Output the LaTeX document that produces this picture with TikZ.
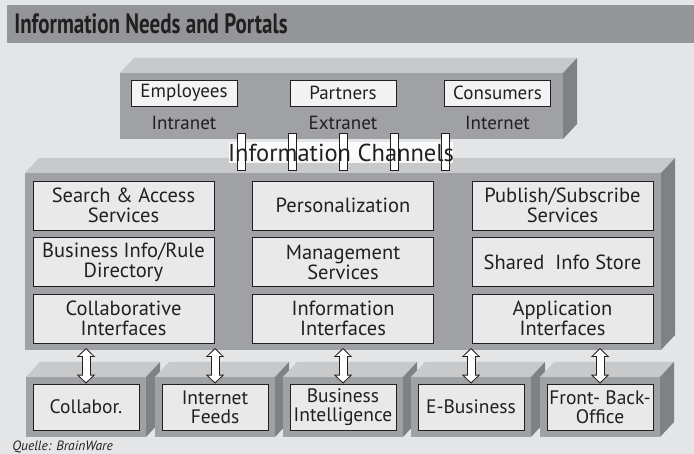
\documentclass[tikz,border=0pt]{standalone}
\usepackage{fontspec}
\setmainfont{PT Sans}
\usetikzlibrary{arrows.meta}

\definecolor{paper}{HTML}{E4E5E6}
\definecolor{titlegray}{HTML}{939598}
\definecolor{frontgray}{HTML}{A0A1A4}
\definecolor{topgray}{HTML}{C8C9CB}
\definecolor{sidegray}{HTML}{808184}
\definecolor{innerfill}{HTML}{E9E9EA}
\definecolor{whitebox}{HTML}{F3F3F3}
\definecolor{ink}{HTML}{231F20}

\begin{document}
\begin{tikzpicture}[x=1pt,y=-1pt,line width=0.8pt,
    inbox/.style={draw=ink,fill=innerfill,minimum width=181pt,minimum height=49pt,inner sep=0pt,align=center,text=ink,font=\fontsize{20.5}{20}\selectfont},
    basebox/.style={draw=ink,fill=innerfill,minimum width=106pt,minimum height=46pt,inner sep=0pt,align=center,text=ink,font=\fontsize{19.5}{19}\selectfont},
    userbox/.style={draw=ink,fill=whitebox,minimum width=106pt,minimum height=26pt,inner sep=0pt,text=ink,font=\fontsize{19}{19}\selectfont},
    netlabel/.style={text=ink,font=\fontsize{19}{19}\selectfont},
    flowout/.style={line width=9pt,ink,{Triangle[length=9pt,width=18pt]}-{Triangle[length=9pt,width=18pt]}},
    flowin/.style={line width=7pt,white,shorten <=1.4pt,shorten >=1.4pt,{Triangle[length=6.6pt,width=13.2pt]}-{Triangle[length=6.6pt,width=13.2pt]}}]
    \useasboundingbox (0,0) rectangle (694,454);
    \fill[paper] (0,0) rectangle (694,454);
    % title bar
    \fill[titlegray] (7,5) rectangle (694,43);
    \node (title) at (14,34) [anchor=base west,inner sep=0pt,xscale=0.75,text=ink,font=\bfseries\fontsize{28}{28}\selectfont] {Information Needs and Portals};

    % top block: users
    \fill[frontgray] (120,73) rectangle (563,139);
    \fill[topgray] (120,73) -- (134,58) -- (577,58) -- (563,73) -- cycle;
    \fill[sidegray] (563,73) -- (577,58) -- (577,124) -- (563,139) -- cycle;
    \node (employees) at (184,93) [userbox] {Employees};
    \node (partners) at (343,93) [userbox] {Partners};
    \node (consumers) at (497.5,93) [userbox] {Consumers};
    \node (intranet) at (184,123) [netlabel] {Intranet};
    \node (extranet) at (343,123) [netlabel] {Extranet};
    \node (internet) at (497.5,123) [netlabel] {Internet};

    % middle block: services
    \fill[frontgray] (25,173) rectangle (661,350);
    \fill[topgray] (25,173) -- (39,158) -- (675,158) -- (661,173) -- cycle;
    \fill[sidegray] (661,173) -- (675,158) -- (675,335) -- (661,350) -- cycle;
    \node (search) at (123.5,205.5) [inbox] {Search \& Access\\Services};
    \node (rules) at (123.5,262) [inbox] {Business Info/Rule\\Directory};
    \node (collabif) at (123.5,318.5) [inbox] {Collaborative\\Interfaces};
    \node (personal) at (343,205.5) [inbox] {Personalization};
    \node (manage) at (343,262) [inbox] {Management\\Services};
    \node (infoif) at (343,318.5) [inbox] {Information\\Interfaces};
    \node (publish) at (562.5,205.5) [inbox] {Publish/Subscribe\\Services};
    \node (store) at (562.5,262) [inbox] {Shared~~Info Store};
    \node (appif) at (562.5,318.5) [inbox] {Application\\Interfaces};

    % channels between the blocks
    \fill[white,opacity=0.85] (229,142) rectangle (453,163);
    \foreach \x in {241,292,343,394,445}
        \draw[ink,fill=white] (\x-4,133) rectangle (\x+4,170);
    \node (channels) at (341,152.5) [text=ink,font=\fontsize{24.5}{24}\selectfont] {Information Channels};

    % bottom blocks
    \foreach \x in {26,155,283,411,540} {
        \fill[frontgray] (\x,377) rectangle (\x+120,437);
        \fill[topgray] (\x,377) -- (\x+14,362) -- (\x+134,362) -- (\x+120,377) -- cycle;
        \fill[sidegray] (\x+120,377) -- (\x+134,362) -- (\x+134,422) -- (\x+120,437) -- cycle;
    }
    \node (collab) at (86,407) [basebox] {Collabor.};
    \node (feeds) at (215,407) [basebox] {Internet\\Feeds};
    \node (bi) at (343,407) [basebox] {Business\\Intelligence};
    \node (ebiz) at (471,407) [basebox] {E-Business};
    \node (office) at (600,407) [basebox] {Front- Back-\\Office};

    % arrows
    \coordinate (midbase) at (0,348);
    \foreach \n in {collab,feeds,bi,ebiz,office} {
        \draw[flowout] (\n.north |- midbase) -- (\n.north);
        \draw[flowin] (\n.north |- midbase) -- (\n.north);
    }

    \node (source) at (12,447) [anchor=west,inner sep=0pt,text=ink,font=\itshape\fontsize{13.5}{14}\selectfont] {Quelle: BrainWare};
\end{tikzpicture}
\end{document}
